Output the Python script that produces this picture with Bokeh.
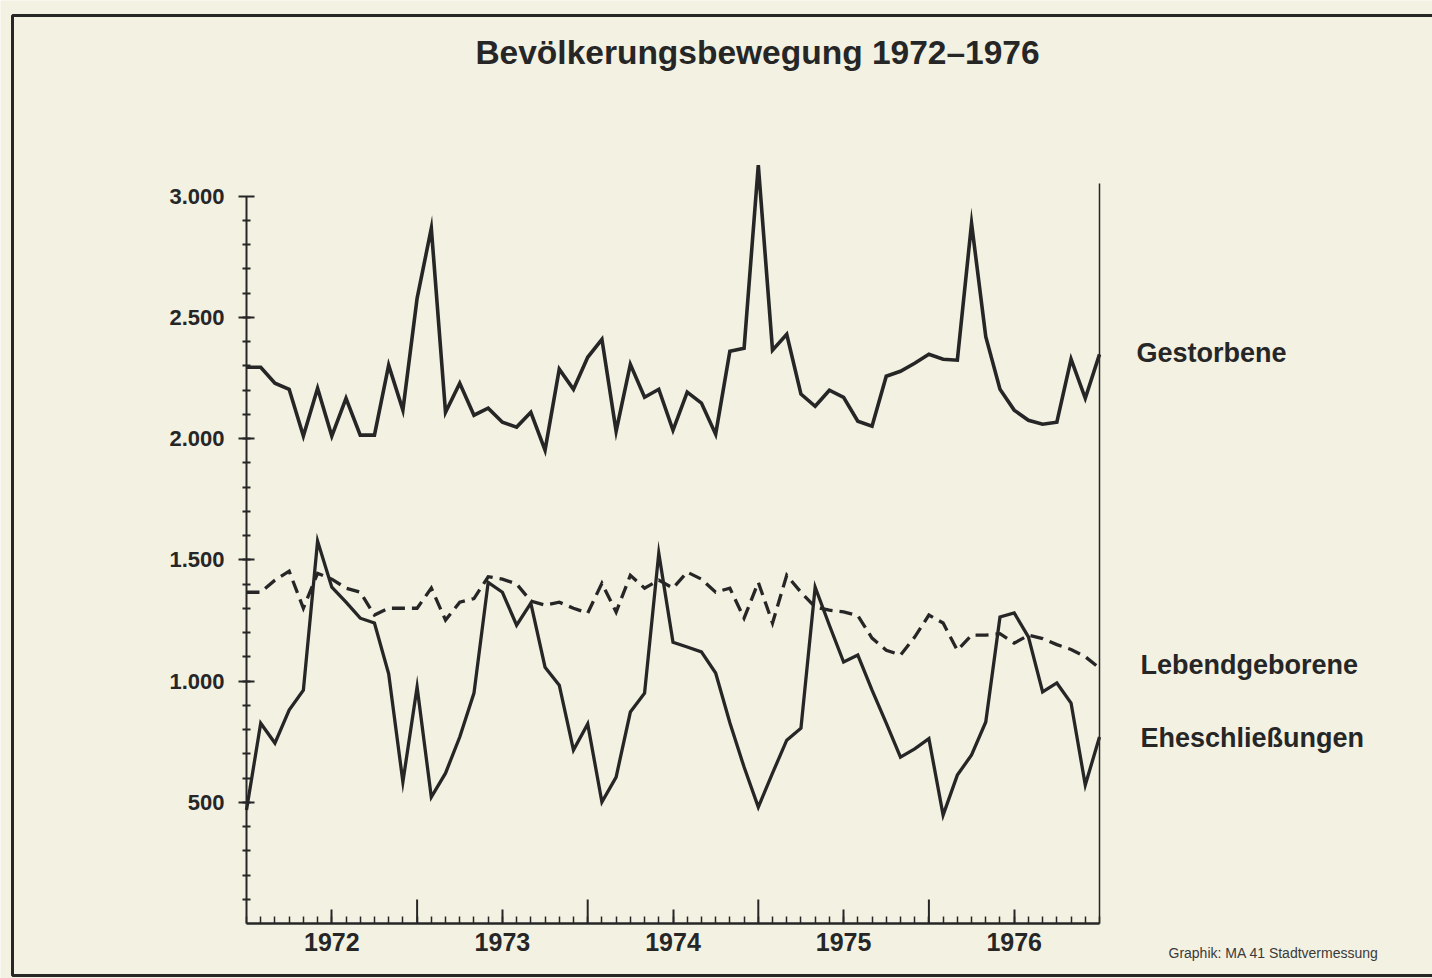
from bokeh.plotting import figure
from bokeh.models import Range1d, FixedTicker, LinearAxis, Label, BoxAnnotation
from bokeh.embed import file_html
from bokeh.resources import INLINE

# ---- data (monthly values, Jan 1972 .. Jan 1977) ----
months = list(range(61))
gestorbene = [2294, 2294, 2228, 2203, 2010, 2207, 2010, 2166, 2014, 2014,
              2302, 2117, 2578, 2867, 2108, 2228, 2096, 2125, 2067, 2047,
              2108, 1952, 2286, 2203, 2335, 2409, 2030, 2306, 2170, 2203,
              2034, 2191, 2146, 2018, 2360, 2372, 3127, 2364, 2430, 2183,
              2133, 2199, 2170, 2071, 2051, 2257, 2277, 2310, 2347, 2327,
              2323, 2887, 2420, 2203, 2117, 2075, 2059, 2067, 2327, 2166,
              2347]
lebendgeborene = [1366, 1366, 1416, 1453, 1300, 1444, 1420, 1383, 1366, 1272,
                  1300, 1300, 1300, 1383, 1251, 1325, 1340, 1430, 1420, 1400,
                  1330, 1313, 1325, 1300, 1280, 1403, 1284, 1436, 1383, 1416,
                  1383, 1449, 1420, 1366, 1383, 1259, 1407, 1239, 1436, 1366,
                  1305, 1292, 1285, 1270, 1177, 1127, 1107, 1181, 1272, 1239,
                  1127, 1189, 1189, 1195, 1156, 1189, 1175, 1150, 1130, 1100,
                  1053]
eheschliessungen = [468, 826, 744, 880, 962, 1577, 1387, 1325, 1259, 1239,
                    1030, 584, 975, 521, 620, 769, 950, 1407, 1366, 1230,
                    1321, 1057, 983, 715, 823, 501, 604, 872, 950, 1527,
                    1160, 1140, 1120, 1033, 828, 645, 480, 620, 756, 805,
                    1387, 1230, 1078, 1107, 962, 826, 686, 720, 762, 447,
                    612, 695, 831, 1264, 1281, 1182, 955, 992, 909, 571,
                    769]

years = ["1972", "1973", "1974", "1975", "1976"]
year_mid = [6, 18, 30, 42, 54]
year_bounds = [12, 24, 36, 48]
y_major = [500, 1000, 1500, 2000, 2500, 3000]
y_major_labels = ["500", "1.000", "1.500", "2.000", "2.500", "3.000"]
y_minor = list(range(100, 3000, 100))

series_names = ["Gestorbene", "Lebendgeborene", "Eheschließungen"]
title_text = "Bevölkerungsbewegung 1972–1976"
credit_text = "Graphik: MA 41 Stadtvermessung"

# ---- layout constants (canvas pixels) ----
W, H = 1432, 978
X0, XSPAN = 246.0, 853.0      # canvas x of month 0, width of 60 months
Y0, YSPAN = 923.0, 776.0      # canvas y of value 0, height of 3200 units
PXM = XSPAN / 60.0
PXV = YSPAN / 3200.0

def dx(cx):
    return (cx - X0) / PXM

def dy(cy):
    return (Y0 - cy) / PXV

BG = "#f3f1e2"
INK = "#262626"
FONT = "Liberation Sans"

p = figure(width=W, height=H, output_backend="svg", toolbar_location=None,
           x_range=Range1d(dx(0), dx(W)), y_range=Range1d(dy(H), dy(0)),
           min_border=0,
           background_fill_color=BG, border_fill_color=BG,
           outline_line_color=None)
p.title.visible = False
p.grid.visible = False

# x axis (drawn at value 0)
xa = p.xaxis[0]
xa.fixed_location = 0
xa.bounds = (0, 60)
xa.ticker = FixedTicker(ticks=year_mid, minor_ticks=months)
xa.major_label_overrides = {m: y for m, y in zip(year_mid, years)}
xa.axis_line_color = INK
xa.axis_line_width = 2.5
xa.major_tick_line_color = INK
xa.major_tick_line_width = 2
xa.major_tick_in = 14
xa.major_tick_out = 0
xa.minor_tick_line_color = INK
xa.minor_tick_line_width = 1.5
xa.minor_tick_in = 7
xa.minor_tick_out = 0
xa.major_label_text_font = FONT
xa.major_label_text_font_style = "bold"
xa.major_label_text_font_size = "25px"
xa.major_label_text_color = INK
xa.major_label_standoff = 9

# y axis (drawn at month 0)
ya = p.yaxis[0]
ya.fixed_location = 0
ya.bounds = (0, 3000)
ya.ticker = FixedTicker(ticks=y_major, minor_ticks=y_minor)
ya.major_label_overrides = {v: t for v, t in zip(y_major, y_major_labels)}
ya.axis_line_color = INK
ya.axis_line_width = 2
ya.major_tick_line_color = INK
ya.major_tick_line_width = 2
ya.major_tick_in = 8
ya.major_tick_out = 8
ya.minor_tick_line_color = INK
ya.minor_tick_line_width = 2
ya.minor_tick_in = 4
ya.minor_tick_out = 4
ya.major_label_text_font = FONT
ya.major_label_text_font_style = "bold"
ya.major_label_text_font_size = "22px"
ya.major_label_text_color = INK
ya.major_label_standoff = 14

# right-hand closing line at the end of the time axis
ra = LinearAxis(ticker=FixedTicker(ticks=[]), bounds=(0, 3050), fixed_location=60,
                axis_line_color=INK, axis_line_width=1.5,
                major_tick_line_color=None, minor_tick_line_color=None,
                major_label_text_font_size="0px")
p.add_layout(ra, "right")

# tall year-boundary ticks
tall = 24 / PXV
p.segment(x0=year_bounds, y0=[0] * len(year_bounds), x1=year_bounds,
          y1=[tall] * len(year_bounds), line_color=INK, line_width=2)

# series
p.line(months, gestorbene, line_color=INK, line_width=3.6, line_join="miter")
p.line(months, lebendgeborene, line_color=INK, line_width=3.3,
       line_dash="13 7", line_join="miter")
p.line(months, eheschliessungen, line_color=INK, line_width=3.3,
       line_join="miter")

# texts
p.add_layout(Label(x=dx(757), y=dy(52), text=title_text,
                   text_align="center", text_baseline="middle",
                   text_font=FONT, text_font_style="bold", text_font_size="33.5px",
                   text_color=INK))
for name, cx, cy in zip(series_names, [1136, 1140, 1140], [352, 664, 737]):
    p.add_layout(Label(x=dx(cx), y=dy(cy), text=name,
                       text_align="left", text_baseline="middle",
                       text_font=FONT, text_font_style="bold",
                       text_font_size="27px", text_color=INK))
p.add_layout(Label(x=dx(1168), y=dy(952), text=credit_text,
                   text_align="left", text_baseline="middle",
                   text_font=FONT, text_font_size="14px", text_color="#3a3a3a"))

# outer frame of the graphic
p.add_layout(BoxAnnotation(left=dx(12), right=dx(1460), top=dy(15), bottom=dy(975),
                           fill_alpha=0, line_color=INK, line_alpha=1.0,
                           line_width=3))

html = file_html(p, INLINE)
html = html.replace("<body>",
                    '<body style="background-color:%s; overflow:hidden;">' % BG, 1)
open("out.html", "w").write(html)
